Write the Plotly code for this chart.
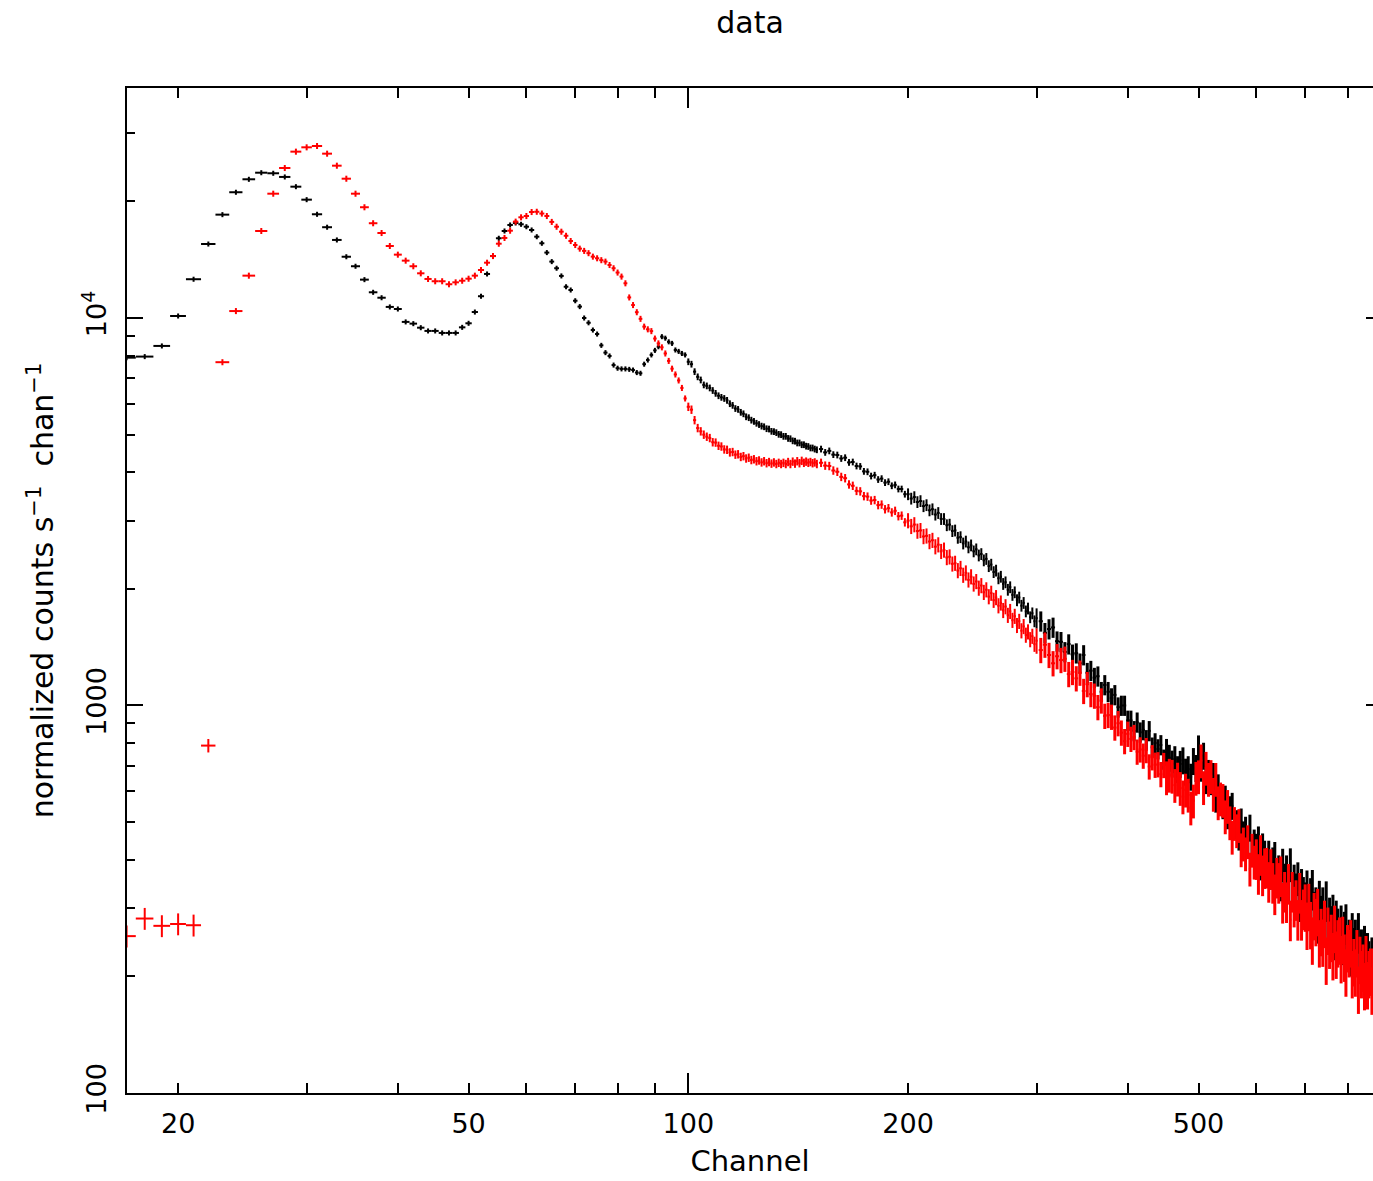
import plotly.graph_objects as go

# ---------------- data ----------------
# channel grid: every channel up to 150, every 2nd to 300, every 4th beyond
channels = list(range(17, 151)) + list(range(152, 301, 2)) + list(range(304, 869, 4))
bin_halfwidth = [0.5] * len(range(17, 151)) + [1.0] * len(range(152, 301, 2)) + [2.0] * len(range(304, 869, 4))

black_counts = [
    7900, 7950, 8470, 10120, 12590, 15520, 18480, 21110, 22800, 23710,
    23630, 23120, 21820, 20200, 18520, 17150, 15900, 14390, 13600, 12560,
    11650, 11280, 10680, 10550, 9770, 9670, 9440, 9260, 9260, 9150,
    9150, 9150, 9460, 9690, 10360, 11380, 12990, 14450, 16060, 16770,
    17380, 17590, 17450, 17200, 16870, 16210, 15590, 14750, 13980, 13440,
    12840, 12040, 11810, 11080, 10700, 10000, 9720, 9310, 9090, 8500,
    8140, 7980, 7560, 7420, 7390, 7390, 7370, 7340, 7230, 7200,
    7600, 7790, 8030, 8250, 8430, 8950, 8870, 8680, 8600, 8270,
    8200, 8100, 8030, 7710, 7600, 7270, 7050, 6920, 6720, 6680,
    6600, 6500, 6390, 6300, 6240, 6200, 6130, 6010, 5950, 5840,
    5810, 5710, 5660, 5560, 5530, 5450, 5410, 5350, 5310, 5260,
    5240, 5180, 5170, 5100, 5090, 5060, 5010, 5000, 4950, 4950,
    4890, 4880, 4820, 4810, 4760, 4760, 4710, 4710, 4670, 4660,
    4620, 4620, 4590, 4570,
    # 152 .. 300 (step 2)
    4590, 4500, 4540, 4440, 4430, 4340, 4360, 4240, 4250, 4150,
    4140, 4020, 4010, 3910, 3930, 3830, 3850, 3760, 3780, 3690,
    3710, 3620, 3620, 3510, 3510, 3420, 3450, 3350, 3370, 3270,
    3290, 3190, 3210, 3110, 3140, 3030, 3030, 2920, 2930, 2820,
    2830, 2710, 2720, 2620, 2650, 2560, 2590, 2500, 2530, 2440,
    2460, 2370, 2390, 2290, 2310, 2210, 2230, 2130, 2150, 2060,
    2080, 1990, 2020, 1930, 1960, 1870, 1900, 1810, 1840, 1750,
    1780, 1690, 1730, 1650, 1680,
    # 304 .. 868 (step 4)
    1650, 1540, 1575, 1590, 1465, 1460, 1375, 1440, 1355, 1365,
    1285, 1350, 1215, 1230, 1180, 1190, 1085, 1130, 1085, 1045,
    1065, 990, 1000, 1000, 915, 915, 860, 905, 853, 865,
    815, 860, 780, 800, 772, 791, 726, 759, 733, 708,
    727, 685, 707, 722, 675, 685, 655, 719, 690, 775,
    691, 742, 642, 670, 638, 658, 575, 615, 582, 553,
    575, 521, 540, 551, 491, 497, 459, 502, 465, 478,
    443, 484, 423, 443, 424, 443, 393, 425, 407, 389,
    407, 372, 391, 404, 366, 373, 347, 388, 355, 373,
    342, 389, 329, 353, 335, 358, 307, 344, 328, 312,
    335, 299, 320, 336, 295, 303, 276, 315, 288, 303,
    276, 314, 265, 285, 271, 290, 250, 280, 267, 253,
    272, 243, 262, 274, 242, 250, 227, 260, 238, 250,
    228, 260, 219, 236, 224, 241, 206, 231, 220, 209,
    225, 201,
]

red_counts = [
    254, 282, 270, 273, 271, 788, 7690, 10420, 12860, 16770,
    20930, 24380, 26870, 27570, 27790, 26550, 24720, 22880, 20930, 19310,
    17560, 16570, 15340, 14570, 14060, 13600, 13040, 12610, 12440, 12440,
    12220, 12360, 12480, 12630, 12860, 13300, 13890, 14450, 15550, 16090,
    16800, 17730, 18190, 18330, 18770, 18800, 18600, 18330, 17700, 17200,
    16700, 16300, 15800, 15430, 15100, 14900, 14700, 14400, 14260, 14100,
    13980, 13700, 13440, 13100, 12790, 12290, 11300, 10800, 10350, 9950,
    9500, 9350, 9250, 8850, 8600, 8400, 8100, 7750, 7400, 7150,
    6900, 6600, 6200, 5900, 5800, 5450, 5200, 5100, 5000, 4940,
    4900, 4780, 4770, 4680, 4660, 4580, 4570, 4500, 4510, 4440,
    4450, 4380, 4400, 4340, 4360, 4300, 4320, 4270, 4290, 4240,
    4270, 4220, 4250, 4210, 4240, 4200, 4230, 4200, 4230, 4200,
    4250, 4200, 4260, 4210, 4270, 4220, 4280, 4230, 4260, 4230,
    4250, 4220, 4240, 4200,
    # 152 .. 300 (step 2)
    4230, 4160, 4150, 4040, 4010, 3890, 3860, 3720, 3690, 3580,
    3570, 3470, 3460, 3380, 3390, 3290, 3300, 3210, 3230, 3150,
    3180, 3080, 3090, 2970, 3000, 2900, 2930, 2820, 2830, 2730,
    2740, 2650, 2670, 2570, 2600, 2500, 2520, 2410, 2420, 2320,
    2330, 2230, 2260, 2170, 2200, 2110, 2150, 2060, 2090, 2010,
    2040, 1960, 1990, 1910, 1950, 1870, 1900, 1810, 1840, 1760,
    1800, 1710, 1750, 1660, 1700, 1610, 1650, 1560, 1600, 1520,
    1550, 1480, 1510, 1440, 1470,
    # 304 .. 868 (step 4)
    1390, 1435, 1350, 1285, 1340, 1310, 1320, 1205, 1220, 1175,
    1215, 1090, 1135, 1070, 1060, 990, 1030, 940, 945, 935,
    877, 900, 851, 809, 845, 820, 829, 760, 770, 742,
    767, 696, 735, 703, 705, 665, 702, 652, 662, 658,
    623, 647, 612, 582, 606, 588, 545, 568, 650, 656,
    721, 615, 690, 646, 657, 591, 646, 562, 575, 570,
    517, 550, 499, 458, 497, 476, 491, 425, 440, 415,
    446, 379, 424, 395, 403, 369, 413, 366, 382, 383,
    352, 380, 350, 327, 361, 350, 364, 311, 332, 312,
    348, 280, 332, 304, 316, 281, 330, 281, 299, 303,
    272, 304, 273, 249, 288, 278, 295, 245, 262, 246,
    275, 221, 264, 243, 253, 227, 267, 229, 245, 249,
    223, 250, 225, 206, 238, 231, 245, 204, 219, 206,
    231, 186, 222, 204, 212, 190, 223, 191, 204, 207,
    185, 207,
]

# relative 1-sigma errors (percent) per channel range
err_edges = [17, 22, 23, 100, 200, 300, 450, 600, 700, 900]
black_err_pct = [1.5, 1.5, 1.5, 2.0, 3.5, 6.0, 8.0, 10.0, 12.0]
red_err_pct = [6.5, 4.0, 1.8, 2.5, 4.5, 7.5, 10.0, 12.0, 14.0]

# channels at/above this value are the sparsely sampled, densely drawn band
band_start_channel = 302

x_tick_major = [20, 50, 100, 200, 500]
x_tick_minor = [30, 40, 60, 70, 80, 90, 300, 400, 600, 700, 800]
x_decade_ticks = [100]
y_tick_major = [100, 1000, 10000]
y_tick_text = ["100", "1000", "10<sup>4</sup>"]
y_tick_minor = [200, 300, 400, 500, 600, 700, 800, 900,
                2000, 3000, 4000, 5000, 6000, 7000, 8000, 9000, 20000, 30000]


def pct_for(ch, table):
    for i in range(len(table)):
        if err_edges[i] <= ch < err_edges[i + 1]:
            return table[i]
    return table[-1]


black_err = [v * pct_for(c, black_err_pct) / 100.0 for c, v in zip(channels, black_counts)]
red_err = [v * pct_for(c, red_err_pct) / 100.0 for c, v in zip(channels, red_counts)]

FONT = "DejaVu Sans"
XRANGE = [1.2310, 2.9380]
YRANGE = [2.0, 4.5935]

split = next(i for i, c in enumerate(channels) if c >= band_start_channel)

fig = go.Figure()
for counts, errs, col, name in [(black_counts, black_err, "#000000", "data 1"),
                                (red_counts, red_err, "#ff0000", "data 2")]:
    for sl, thick in [(slice(0, split), 2), (slice(split, None), 3)]:
        fig.add_trace(go.Scatter(
            x=channels[sl], y=counts[sl], mode="markers", name=name,
            marker=dict(size=1, color=col),
            error_x=dict(type="data", array=bin_halfwidth[sl], color=col, thickness=2, width=0),
            error_y=dict(type="data", array=errs[sl], color=col, thickness=thick, width=0),
            showlegend=False, hoverinfo="x+y",
        ))

# helper (empty) traces so the overlay axes used for extra tick marks are drawn
fig.add_trace(go.Scatter(x=[], y=[], xaxis="x2", yaxis="y", showlegend=False))
fig.add_trace(go.Scatter(x=[], y=[], xaxis="x", yaxis="y2", showlegend=False))

fig.update_layout(
    width=1373, height=1181,
    margin=dict(l=127, r=0, t=88, b=88),
    paper_bgcolor="white", plot_bgcolor="white",
    font=dict(family=FONT, color="black", size=27),
    title=dict(text="data", x=0.5, xref="paper", xanchor="center",
               y=1 - 22 / 1181, yref="container", yanchor="middle",
               font=dict(family=FONT, size=30, color="black")),
    xaxis=dict(
        type="log", range=XRANGE, showgrid=False, zeroline=False,
        showline=True, linecolor="black", linewidth=2, mirror="ticks",
        ticks="inside", ticklen=10, tickwidth=1.5, tickcolor="black",
        tickvals=x_tick_major, ticktext=[str(v) for v in x_tick_major],
        tickfont=dict(family=FONT, size=27), ticklabelstandoff=6,
        minor=dict(tickvals=x_tick_minor, ticks="inside", ticklen=10,
                   tickwidth=1.5, tickcolor="black", showgrid=False),
        title=dict(text="Channel", font=dict(family=FONT, size=29), standoff=12),
    ),
    xaxis2=dict(
        type="log", range=XRANGE, overlaying="x", anchor="y", side="bottom",
        showgrid=False, zeroline=False, showline=False, mirror="ticks",
        ticks="inside", ticklen=20, tickwidth=1.5, tickcolor="black",
        tickvals=x_decade_ticks, showticklabels=False,
    ),
    yaxis=dict(
        type="log", range=YRANGE, showgrid=False, zeroline=False,
        showline=True, linecolor="black", linewidth=2, mirror=False,
        ticks="inside", ticklen=16, tickwidth=1.5, tickcolor="black",
        tickvals=y_tick_major, ticktext=y_tick_text, tickangle=-90,
        tickfont=dict(family=FONT, size=27), ticklabelstandoff=8,
        minor=dict(tickvals=y_tick_minor, ticks="inside", ticklen=8,
                   tickwidth=1.5, tickcolor="black", showgrid=False),
        title=dict(text="normalized counts s<sup>\u22121</sup>  chan<sup>\u22121</sup>",
                   font=dict(family=FONT, size=30), standoff=14),
    ),
    yaxis2=dict(
        type="log", range=YRANGE, overlaying="y", anchor="x", side="right",
        showgrid=False, zeroline=False, showline=False,
        ticks="inside", ticklen=7, tickwidth=1.5, tickcolor="black",
        tickvals=y_tick_major, showticklabels=False,
    ),
)

fig.write_html("out.html")
